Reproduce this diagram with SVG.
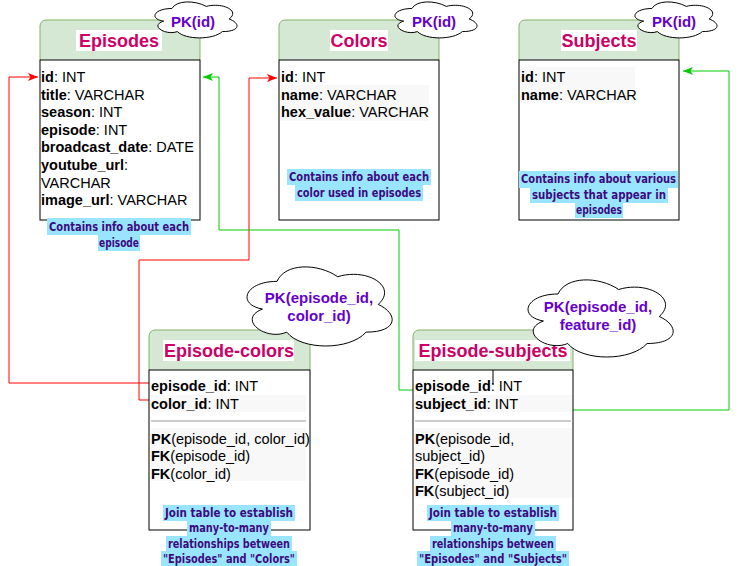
<svg xmlns="http://www.w3.org/2000/svg" width="740" height="566" viewBox="0 0 740 566">
<style>
.hdr{fill:#d5e8d4;stroke:#82b366;stroke-width:1}
.body{fill:#ffffff;stroke:#000000;stroke-width:1}
.title{font-family:"Liberation Sans",Arial,sans-serif;font-weight:bold;font-size:18px;fill:#CC0066;text-anchor:middle}
.tbg{fill:#ffffff}
.row{font-family:"Liberation Sans",Arial,sans-serif;font-size:14.5px;fill:#000000}
.b{font-weight:bold}
.rbg{fill:#f8f8f8}
.cloud{fill:#ffffff;stroke:#000000;stroke-width:1}
.ctext{font-family:"Liberation Sans",Arial,sans-serif;font-weight:bold;font-size:15px;fill:#6600CC;text-anchor:middle}
.cap{font-family:"DejaVu Sans",sans-serif;font-weight:bold;font-size:11.5px;fill:#3c0a80;text-anchor:middle}
.capbg{fill:#99e5ff}
.sep{stroke:#999999;stroke-width:1}
.red{fill:none;stroke:#ff0000;stroke-width:1}
.grn{fill:none;stroke:#00cc00;stroke-width:1}
</style>
<defs>
<marker id="arR" viewBox="0 0 10 8" refX="10" refY="4" markerWidth="10" markerHeight="8" markerUnits="userSpaceOnUse" orient="auto"><path d="M0,0 L10,4 L0,8 L2.5,4 Z" fill="#ff0000"/></marker>
<marker id="arG" viewBox="0 0 10 8" refX="10" refY="4" markerWidth="10" markerHeight="8" markerUnits="userSpaceOnUse" orient="auto"><path d="M0,0 L10,4 L0,8 L2.5,4 Z" fill="#00cc00"/></marker>
</defs>

<g id="connectors">
<path class="red" d="M149,383 H9 V77 H38" marker-end="url(#arR)"/>
<path class="red" d="M149,400 H139 V260 H249 V78 H277" marker-end="url(#arR)"/>
<path class="grn" d="M413,390 H399 V230 H219 V77 H203" marker-end="url(#arG)"/>
<path class="grn" d="M573,410 H729 V71 H683" marker-end="url(#arG)"/>
</g>

<g id="episodes">
<rect class="hdr" x="40" y="20" width="160" height="44" rx="6"/>
<rect class="body" x="40" y="60" width="160" height="160"/>
<rect class="tbg" x="76" y="30" width="86" height="21"/>
<text class="title" x="119" y="47">Episodes</text>
<text class="row" x="41" y="82"><tspan class="b">id</tspan>: INT</text>
<text class="row" x="41" y="99.6"><tspan class="b">title</tspan>: VARCHAR</text>
<text class="row" x="41" y="117.2"><tspan class="b">season</tspan>: INT</text>
<text class="row" x="41" y="134.8"><tspan class="b">episode</tspan>: INT</text>
<text class="row" x="41" y="152.4"><tspan class="b">broadcast_date</tspan>: DATE</text>
<text class="row" x="41" y="170"><tspan class="b">youtube_url</tspan>:</text>
<text class="row" x="41" y="187.6">VARCHAR</text>
<text class="row" x="41" y="205.2"><tspan class="b">image_url</tspan>: VARCHAR</text>
<rect class="capbg" x="47" y="218" width="144" height="17"/>
<rect class="capbg" x="98" y="235" width="42" height="16"/>
<text class="cap" x="119" y="231" textLength="140" lengthAdjust="spacingAndGlyphs">Contains info about each</text>
<text class="cap" x="119" y="247" textLength="40" lengthAdjust="spacingAndGlyphs">episode</text>
</g>
<g id="episodes-pk">
<path class="cloud" vector-effect="non-scaling-stroke" transform="translate(149,-2) scale(0.916,0.42)" d="M25,25 C5,25 0,50 16,55 C0,66 18,90 31,80 C40,100 70,100 80,80 C100,80 100,60 87.5,50 C100,30 80,10 62.5,20 C50,5 30,5 25,25 Z"/>
<text class="ctext" x="193" y="27">PK(id)</text>
</g>

<g id="colors">
<rect class="hdr" x="279" y="20" width="160" height="44" rx="6"/>
<rect class="body" x="279" y="60" width="160" height="160"/>
<rect class="tbg" x="330" y="30" width="58" height="21"/>
<text class="title" x="359" y="47">Colors</text>
<rect class="rbg" x="280" y="85" width="149" height="36"/>
<text class="row" x="281" y="82"><tspan class="b">id</tspan>: INT</text>
<text class="row" x="281" y="99.6"><tspan class="b">name</tspan>: VARCHAR</text>
<text class="row" x="281" y="117.2"><tspan class="b">hex_value</tspan>: VARCHAR</text>
<rect class="capbg" x="287" y="169" width="144" height="16"/>
<rect class="capbg" x="295" y="185" width="128" height="16"/>
<text class="cap" x="359" y="181" textLength="140" lengthAdjust="spacingAndGlyphs">Contains info about each</text>
<text class="cap" x="359" y="197" textLength="124" lengthAdjust="spacingAndGlyphs">color used in episodes</text>
</g>
<g id="colors-pk">
<path class="cloud" vector-effect="non-scaling-stroke" transform="translate(389,-2) scale(0.916,0.42)" d="M25,25 C5,25 0,50 16,55 C0,66 18,90 31,80 C40,100 70,100 80,80 C100,80 100,60 87.5,50 C100,30 80,10 62.5,20 C50,5 30,5 25,25 Z"/>
<text class="ctext" x="434" y="27">PK(id)</text>
</g>

<g id="subjects">
<rect class="hdr" x="519" y="20" width="160" height="44" rx="6"/>
<rect class="body" x="519" y="60" width="160" height="160"/>
<rect class="tbg" x="561" y="30" width="76" height="21"/>
<text class="title" x="599" y="47">Subjects</text>
<rect class="rbg" x="520" y="67" width="115" height="36"/>
<text class="row" x="521" y="82"><tspan class="b">id</tspan>: INT</text>
<text class="row" x="521" y="99.6"><tspan class="b">name</tspan>: VARCHAR</text>
<rect class="capbg" x="519" y="171" width="159" height="17"/>
<rect class="capbg" x="530" y="188" width="138" height="15"/>
<rect class="capbg" x="575" y="203" width="48" height="15"/>
<text class="cap" x="598.5" y="183" textLength="155" lengthAdjust="spacingAndGlyphs">Contains info about various</text>
<text class="cap" x="599" y="199" textLength="134" lengthAdjust="spacingAndGlyphs">subjects that appear in</text>
<text class="cap" x="599" y="214" textLength="46" lengthAdjust="spacingAndGlyphs">episodes</text>
</g>
<g id="subjects-pk">
<path class="cloud" vector-effect="non-scaling-stroke" transform="translate(629,-2) scale(0.916,0.42)" d="M25,25 C5,25 0,50 16,55 C0,66 18,90 31,80 C40,100 70,100 80,80 C100,80 100,60 87.5,50 C100,30 80,10 62.5,20 C50,5 30,5 25,25 Z"/>
<text class="ctext" x="674" y="27">PK(id)</text>
</g>

<g id="episode-colors">
<rect class="hdr" x="149" y="330" width="161" height="44" rx="6"/>
<rect class="body" x="149" y="370" width="161" height="160"/>
<rect class="tbg" x="163" y="340" width="131" height="21"/>
<text class="title" x="229" y="357">Episode-colors</text>
<rect class="rbg" x="150" y="395" width="156" height="17"/>
<rect class="rbg" x="150" y="428" width="156" height="53"/>
<text class="row" x="151" y="391"><tspan class="b">episode_id</tspan>: INT</text>
<text class="row" x="151" y="408.5"><tspan class="b">color_id</tspan>: INT</text>
<line class="sep" x1="151" y1="421" x2="306" y2="421"/>
<text class="row" x="151" y="443.5"><tspan class="b">PK</tspan>(episode_id, color_id)</text>
<text class="row" x="151" y="461"><tspan class="b">FK</tspan>(episode_id)</text>
<text class="row" x="151" y="478.5"><tspan class="b">FK</tspan>(color_id)</text>
<rect class="capbg" x="163" y="505" width="132" height="16"/>
<rect class="capbg" x="187" y="521" width="84" height="15"/>
<rect class="capbg" x="166" y="536" width="126" height="15"/>
<rect class="capbg" x="161" y="551" width="136" height="15"/>
<text class="cap" x="229" y="517" textLength="128" lengthAdjust="spacingAndGlyphs">Join table to establish</text>
<text class="cap" x="229" y="532" textLength="80" lengthAdjust="spacingAndGlyphs">many-to-many</text>
<text class="cap" x="229" y="547.5" textLength="122" lengthAdjust="spacingAndGlyphs">relationships between</text>
<text class="cap" x="229" y="562.5" textLength="132" lengthAdjust="spacingAndGlyphs">"Episodes" and "Colors"</text>
</g>
<g id="episode-colors-pk">
<path class="cloud" vector-effect="non-scaling-stroke" transform="translate(236.5,258.3) scale(1.62,0.923)" d="M25,25 C5,25 0,50 16,55 C0,66 18,90 31,80 C40,100 70,100 80,80 C100,80 100,60 87.5,50 C100,30 80,10 62.5,20 C50,5 30,5 25,25 Z"/>
<text class="ctext" x="319" y="303">PK(episode_id,</text>
<text class="ctext" x="319" y="320.5">color_id)</text>
</g>

<g id="episode-subjects">
<rect class="hdr" x="413" y="330" width="160" height="44" rx="6"/>
<rect class="body" x="413" y="370" width="160" height="160"/>
<rect class="tbg" x="415" y="340" width="155" height="21"/>
<text class="title" x="493" y="357">Episode-subjects</text>
<rect class="rbg" x="414" y="395" width="158" height="17"/>
<rect class="rbg" x="414" y="428" width="158" height="70"/>
<line x1="493" y1="370" x2="493" y2="385" stroke="#000000" stroke-width="1"/>
<text class="row" x="415" y="391"><tspan class="b">episode_id</tspan>: INT</text>
<text class="row" x="415" y="408.5"><tspan class="b">subject_id</tspan>: INT</text>
<line class="sep" x1="415" y1="421" x2="571" y2="421"/>
<text class="row" x="415" y="443.5"><tspan class="b">PK</tspan>(episode_id,</text>
<text class="row" x="415" y="461">subject_id)</text>
<text class="row" x="415" y="478.5"><tspan class="b">FK</tspan>(episode_id)</text>
<text class="row" x="415" y="496"><tspan class="b">FK</tspan>(subject_id)</text>
<rect class="capbg" x="427" y="505" width="132" height="16"/>
<rect class="capbg" x="451" y="521" width="84" height="15"/>
<rect class="capbg" x="430" y="536" width="126" height="15"/>
<rect class="capbg" x="417" y="551" width="152" height="15"/>
<text class="cap" x="493" y="517" textLength="128" lengthAdjust="spacingAndGlyphs">Join table to establish</text>
<text class="cap" x="493" y="532" textLength="80" lengthAdjust="spacingAndGlyphs">many-to-many</text>
<text class="cap" x="493" y="547.5" textLength="122" lengthAdjust="spacingAndGlyphs">relationships between</text>
<text class="cap" x="493" y="562.5" textLength="148" lengthAdjust="spacingAndGlyphs">"Episodes" and "Subjects"</text>
</g>
<g id="episode-subjects-pk">
<path class="cloud" vector-effect="non-scaling-stroke" transform="translate(517.5,271.5) scale(1.62,0.90)" d="M25,25 C5,25 0,50 16,55 C0,66 18,90 31,80 C40,100 70,100 80,80 C100,80 100,60 87.5,50 C100,30 80,10 62.5,20 C50,5 30,5 25,25 Z"/>
<text class="ctext" x="598" y="312">PK(episode_id,</text>
<text class="ctext" x="598" y="330">feature_id)</text>
</g>
</svg>
